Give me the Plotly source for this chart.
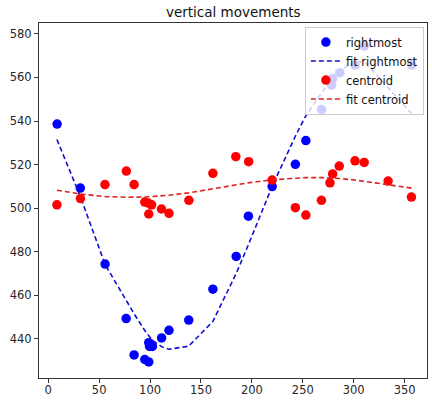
import plotly.graph_objects as go

# rightmost (blue) observations
right_x = [8.7, 31.5, 55.8, 76.5, 84.3, 94.8, 98.7, 98.7, 99.5, 102.3, 111.3, 118.6, 138.0,
           161.7, 184.6, 196.6, 219.9, 242.7, 253.0, 268.5, 278.3, 279.3, 286.3, 301.4, 310.4, 357.0]
right_y = [538.6, 509.2, 474.3, 449.3, 432.6, 430.5, 429.4, 438.2, 436.5, 436.5, 440.4, 443.9, 448.6,
           462.8, 477.8, 496.3, 509.9, 520.1, 531.0, 545.3, 556.5, 559.5, 562.2, 565.7, 574.4, 565.7]

# fitted rightmost curve, evaluated at the sorted x values
fitr_x = [8.5, 31.4, 55.9, 76.4, 84.3, 94.8, 98.7, 102.3, 111.4, 118.6, 137.9, 161.7, 184.6,
          196.4, 219.9, 242.7, 252.5, 268.5, 278.3, 285.8, 301.2, 311.0, 356.7]
fitr_y = [531.5, 505.5, 474.0, 457.5, 451.5, 443.8, 441.2, 439.3, 436.4, 435.2, 436.6, 448.0, 470.0,
          483.0, 510.0, 533.0, 542.0, 553.0, 559.0, 563.0, 567.5, 567.0, 543.5]

# centroid (red) observations
cent_x = [8.5, 31.6, 55.7, 76.7, 84.3, 94.8, 98.2, 98.7, 101.5, 111.2, 118.6, 138.1, 161.7,
          184.2, 196.8, 219.9, 242.7, 253.0, 268.3, 276.7, 279.3, 285.8, 301.3, 310.3, 333.8, 356.7]
cent_y = [501.5, 504.4, 510.8, 517.0, 510.8, 502.8, 502.3, 497.3, 501.5, 499.6, 497.6, 503.6, 516.0,
          523.6, 521.3, 512.9, 500.2, 496.8, 503.6, 511.6, 515.7, 519.3, 521.7, 521.0, 512.4, 505.1]

# fitted centroid curve
fitc_x = [8.5, 31.4, 55.9, 76.4, 94.8, 102.3, 118.6, 137.9, 161.7, 184.6, 196.4, 219.9, 242.7,
          252.5, 268.5, 279.3, 285.8, 301.2, 310.3, 333.8, 356.7]
fitc_y = [508.2, 506.5, 505.3, 505.0, 505.1, 505.3, 505.9, 507.0, 508.8, 510.7, 511.6, 513.0, 513.8,
          514.0, 514.0, 513.8, 513.6, 512.9, 512.3, 510.9, 509.2]

x_ticks = [0, 50, 100, 150, 200, 250, 300, 350]
y_ticks = [440, 460, 480, 500, 520, 540, 560, 580]

FONT = "DejaVu Sans"
fig = go.Figure()
fig.add_trace(go.Scatter(x=right_x, y=right_y, mode="markers", name="rightmost",
                         marker=dict(color="#0000ff", size=9.5, line=dict(width=0))))
fig.add_trace(go.Scatter(x=fitr_x, y=fitr_y, mode="lines", name="fit rightmost",
                         line=dict(color="#1010d0", width=1.6, dash="5px,3px")))
fig.add_trace(go.Scatter(x=cent_x, y=cent_y, mode="markers", name="centroid",
                         marker=dict(color="#ff0000", size=9.5, line=dict(width=0))))
fig.add_trace(go.Scatter(x=fitc_x, y=fitc_y, mode="lines", name="fit centroid",
                         line=dict(color="#e02020", width=1.6, dash="5px,3px")))

axis_common = dict(showgrid=False, zeroline=False, showline=True, mirror=True,
                   linecolor="#333333", linewidth=1, ticks="outside", ticklen=4,
                   tickcolor="#333333", tickfont=dict(family=FONT, size=11.5, color="#262626"))

fig.update_layout(
    width=432, height=401,
    margin=dict(l=39, r=4, t=23, b=17),
    paper_bgcolor="white", plot_bgcolor="white",
    title=dict(text="vertical movements", x=0.54, xanchor="center", y=0.98, yanchor="top",
               font=dict(family=FONT, size=13.5, color="#111111")),
    xaxis=dict(range=[-9.1, 372], tickvals=x_ticks, ticklabelstandoff=-3, **axis_common),
    yaxis=dict(range=[422, 585], tickvals=y_ticks, **axis_common),
    legend=dict(x=0.992, y=0.99, xanchor="right", yanchor="top",
                bgcolor="rgba(255,255,255,0.8)", bordercolor="#cccccc", borderwidth=1,
                font=dict(family=FONT, size=11.5, color="#111111"),
                itemwidth=30, tracegroupgap=0),
    showlegend=True,
)

fig.write_html("out.html", config={"displayModeBar": False},
               post_script="document.body.style.margin='0px';document.body.style.overflow='hidden';")
